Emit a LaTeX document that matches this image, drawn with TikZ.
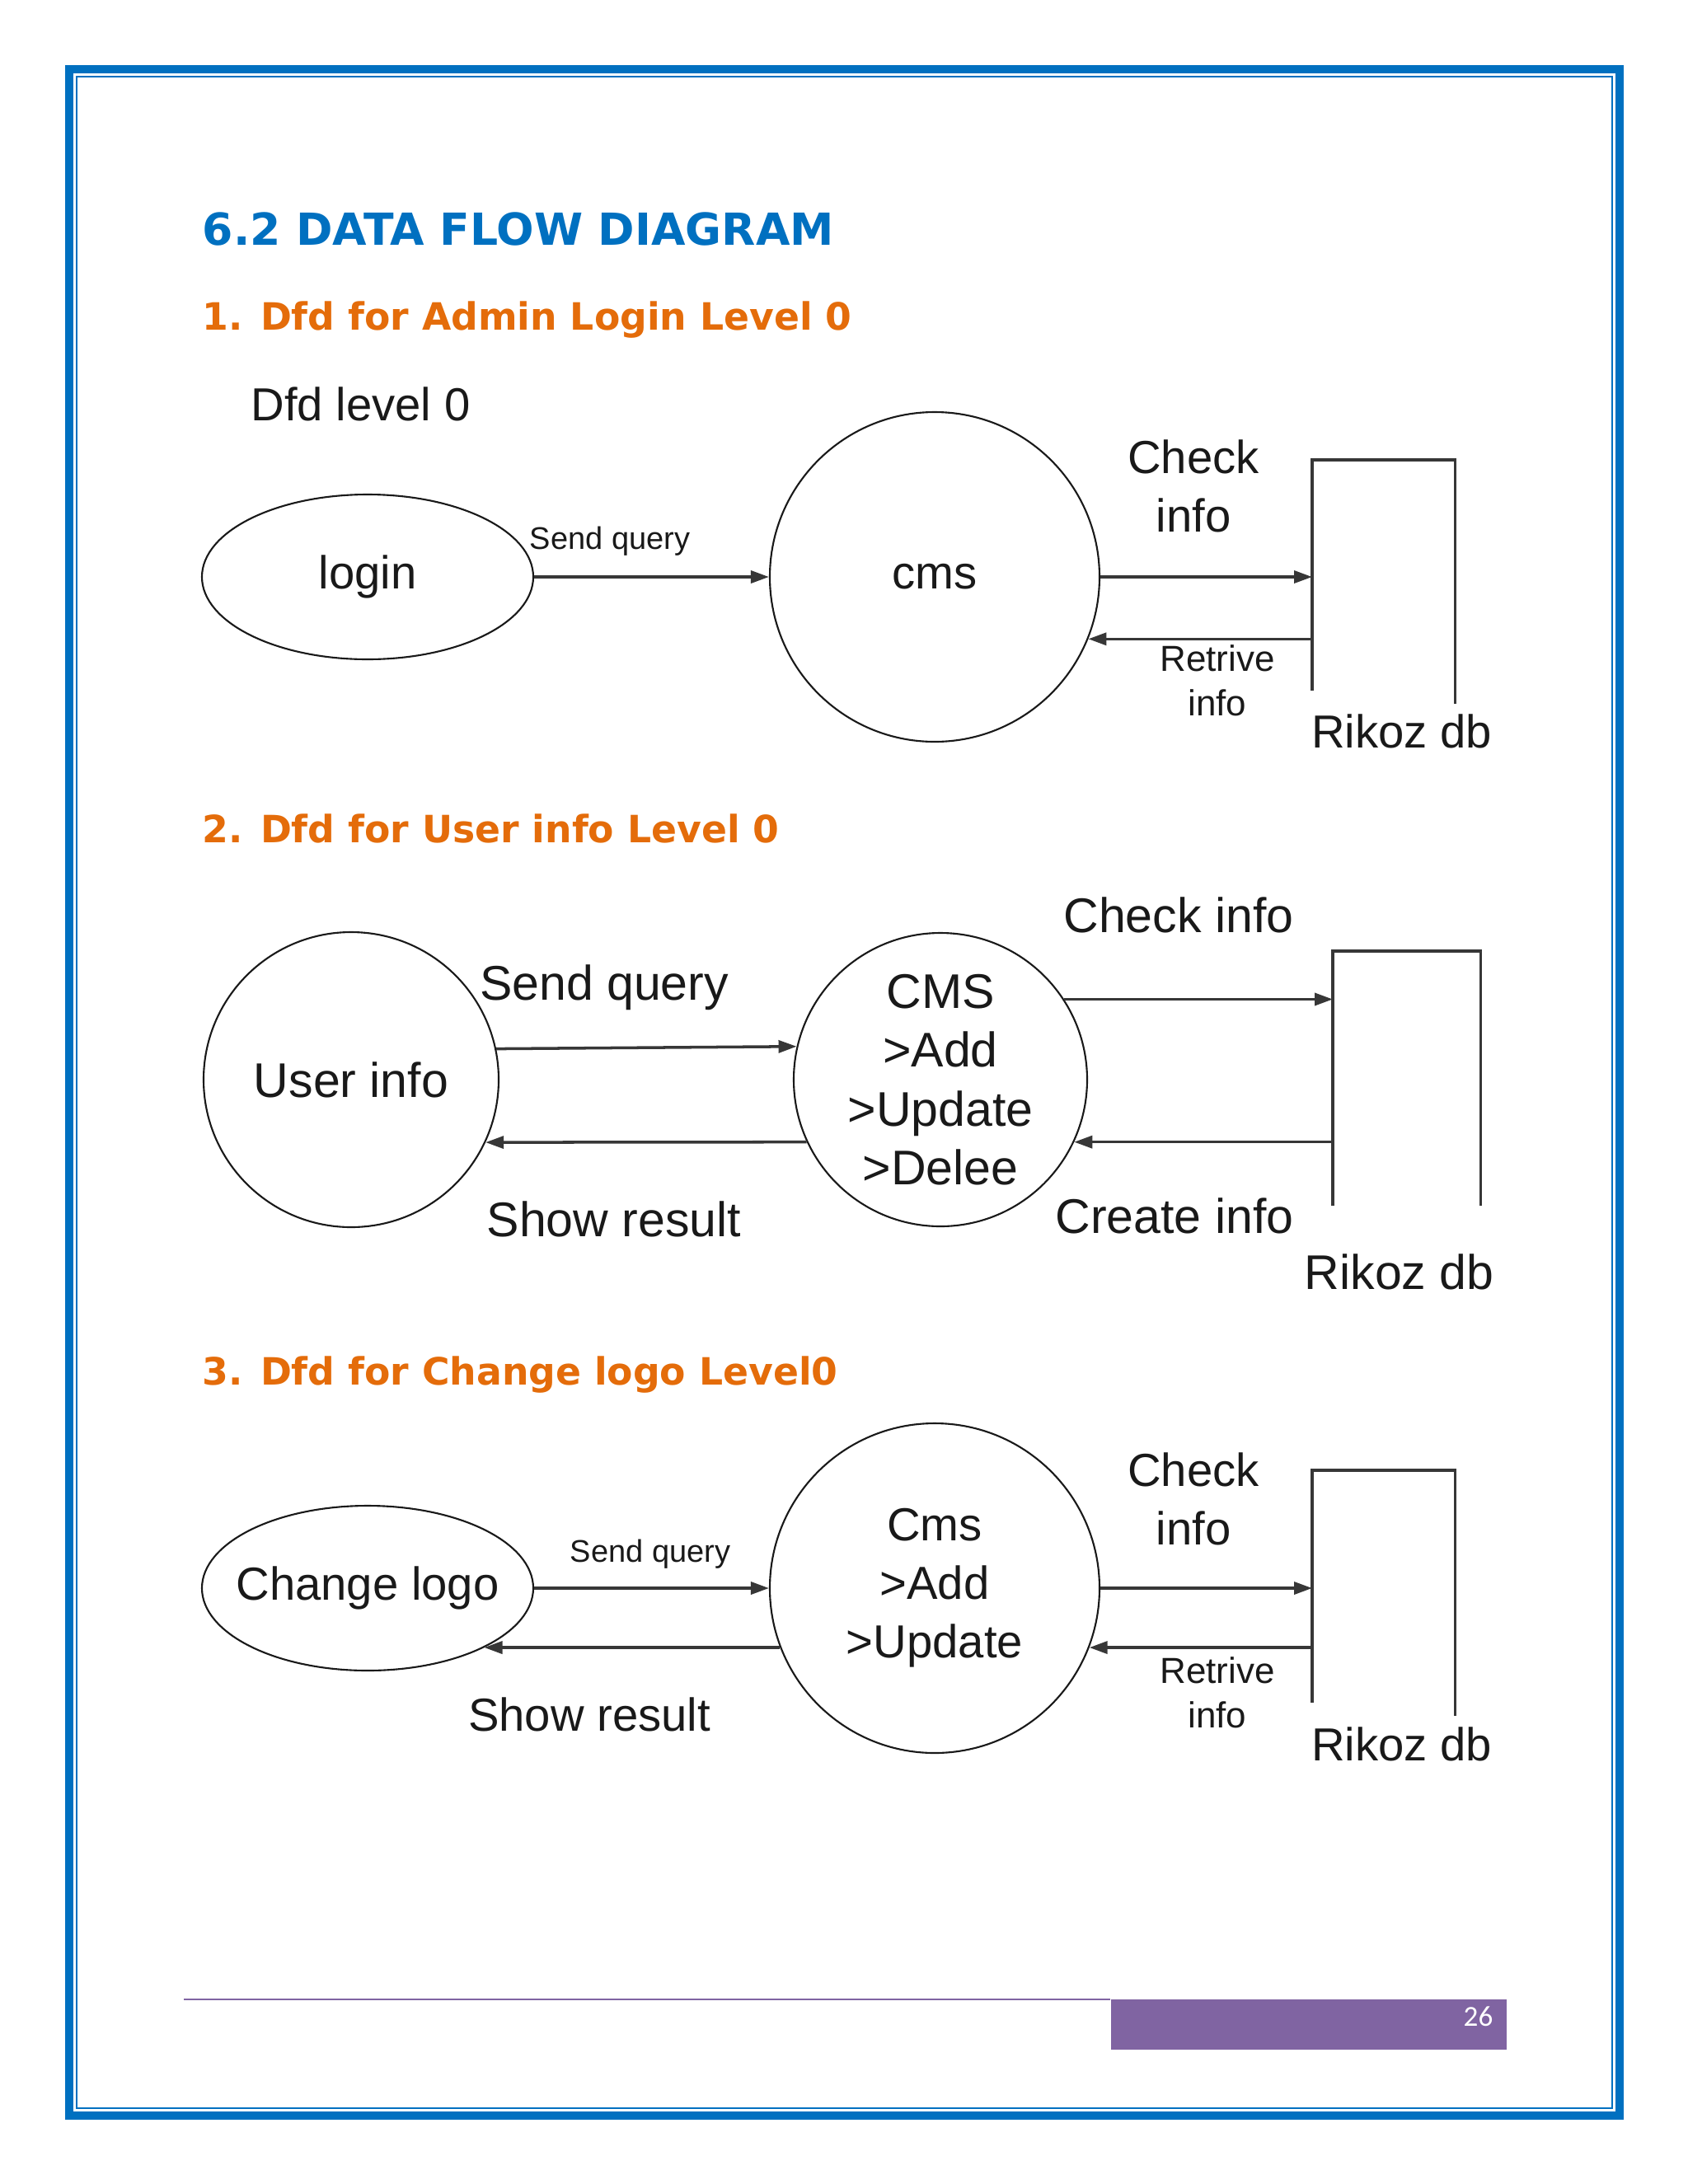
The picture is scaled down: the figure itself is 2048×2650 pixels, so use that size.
\documentclass[tikz,border=0pt]{standalone}
\usepackage{fontspec}
\setmainfont{Liberation Sans}
\newfontfamily\headfont{DejaVu Sans}
\newfontfamily\footfont{Carlito}
\usetikzlibrary{shapes.geometric,arrows.meta,positioning}
\definecolor{pageblue}{RGB}{0,112,192}
\definecolor{headorange}{RGB}{228,108,10}
\definecolor{footpurple}{RGB}{128,100,162}
\definecolor{ink}{RGB}{25,25,25}
\definecolor{wire}{RGB}{55,55,55}

\begin{document}
\begin{tikzpicture}[
    x=0.1mm, y=-0.1mm,
    pagetitle/.style={anchor=base west, inner sep=0pt, text=pageblue, font=\headfont\bfseries\fontsize{15.25}{18}\selectfont},
    secthead/.style={anchor=base west, inner sep=0pt, text=headorange, font=\headfont\bfseries\fontsize{13}{16}\selectfont},
    txt/.style={inner sep=0pt, align=center, text=ink, font=\fontsize{16}{20.2}\selectfont},
    txtB/.style={txt, font=\fontsize{16.8}{20.3}\selectfont},
    txtS/.style={txt, font=\fontsize{10.8}{13}\selectfont},
    txtM/.style={txt, font=\fontsize{12.5}{15.4}\selectfont},
    proc/.style={circle, draw=ink, line width=0.6pt, inner sep=0pt},
    ent/.style={ellipse, draw=ink, line width=0.6pt, inner sep=0pt, minimum width=40.2mm, minimum height=20mm},
    store/.style={rectangle, inner sep=0pt, anchor=north west},
    side/.style={draw=wire, line width=0.9pt},
    arr/.style={-{Triangle[length=2.2mm,width=1.5mm]}, line width=1pt, draw=wire}
]
    \useasboundingbox (0,0) rectangle (2048,2650);
    \draw[pageblue, line width=1mm] (84,84) rectangle (1965,2567);
    \draw[pageblue, line width=0.25mm] (93,93) rectangle (1956,2558);

    \node[pagetitle] (ttl) at (245,297) {6.2 DATA FLOW DIAGRAM};
    \node[secthead] (h1) at (245,400) {1. Dfd for Admin Login Level 0};
    \node[secthead] (h2) at (245,1022) {2. Dfd for User info Level 0};
    \node[secthead] (h3) at (245,1680) {3. Dfd for Change logo Level0};

    % level 0: admin login
    \node[txt, anchor=base west] (lvl) at (304,510) {Dfd level 0};
    \node[ent, txt] (login) at (446,700) {login};
    \node[proc, txt, minimum size=40mm] (cms1) at (1134,700) {cms};
    \node[store, minimum width=17.2mm, minimum height=28.7mm] (st1) at (1592,558) {};
    \draw[side] ([yshift=0.8mm]st1.south west) |- (st1.north east) -- ([yshift=-0.8mm]st1.south east);
    \node[txt, below=2mm of st1.south, xshift=2.2mm] (db1) {Rikoz db};

    \draw[arr] (login) -- (cms1);
    \node[txtS] (q1) at (740,657) {Send query};
    \draw[arr] (cms1) -- (cms1 -| st1.west);
    \node[txt] (chk1) at (1448,590) {Check\\info};
    \draw[arr] (cms1.-22 -| st1.west) -- (cms1.-22);
    \node[txtM] (ret1) at (1477,826) {Retrive\\info};

    % level 0: user info
    \node[proc, txtB, minimum size=35.8mm] (user) at (426,1310) {User info};
    \node[proc, txtB, minimum size=35.6mm] (cms2) at (1141,1310) {CMS\\>Add\\>Update\\>Delee};
    \node[store, minimum width=17.8mm, minimum height=30.8mm] (st2) at (1617,1154) {};
    \draw[side] (st2.south west) |- (st2.north east) -- (st2.south east);
    \node[txtB, below=5.8mm of st2.south, xshift=-0.9mm] (db2) {Rikoz db};

    \draw[arr] (user.12.6) -- (cms2.167.4);
    \node[txtB] (q2) at (733,1198) {Send query};
    \draw[arr] (cms2.205) -- (user.-25);
    \node[txtB] (res2) at (745,1479) {Show result};
    \draw[arr] (cms2.33) -- (cms2.33 -| st2.west);
    \node[txtB] (chk2) at (1430,1110) {Check info};
    \draw[arr] (cms2.-25 -| st2.west) -- (cms2.-25);
    \node[txtB] (crt2) at (1425,1475) {Create info};

    % level 0: change logo
    \node[ent, txt] (chg) at (446,1927) {\makebox[0pt]{Change logo}};
    \node[proc, txt, minimum size=40mm] (cms3) at (1134,1927) {Cms\\>Add\\>Update};
    \node[store, minimum width=17.2mm, minimum height=28.9mm] (st3) at (1592,1784) {};
    \draw[side] ([yshift=0.8mm]st3.south west) |- (st3.north east) -- ([yshift=-0.8mm]st3.south east);
    \node[txt, below=2.1mm of st3.south, xshift=2.2mm] (db3) {Rikoz db};

    \draw[arr] (chg) -- (cms3);
    \node[txtS] (q3) at (789,1886) {Send query};
    \draw[arr] (cms3.201) -- (chg.-27 |- cms3.201);
    \node[txt] (res3) at (715,2080) {Show result};
    \draw[arr] (cms3) -- (cms3 -| st3.west);
    \node[txt] (chk3) at (1448,1819) {Check\\info};
    \draw[arr] (cms3.-21 -| st3.west) -- (cms3.-21);
    \node[txtM] (ret3) at (1477,2054) {Retrive\\info};

    % footer
    \draw[footpurple, line width=0.15mm] (223,2426) -- (1347,2426);
    \node[rectangle, fill=footpurple, inner sep=0pt, anchor=north west, minimum width=48mm, minimum height=6.1mm] (pagebar) at (1347,2425) {};
    \node[anchor=east, inner sep=0pt, text=white, font=\footfont\fontsize{10}{12}\selectfont] (pagenum) at (1812,2447) {26};
\end{tikzpicture}
\end{document}
